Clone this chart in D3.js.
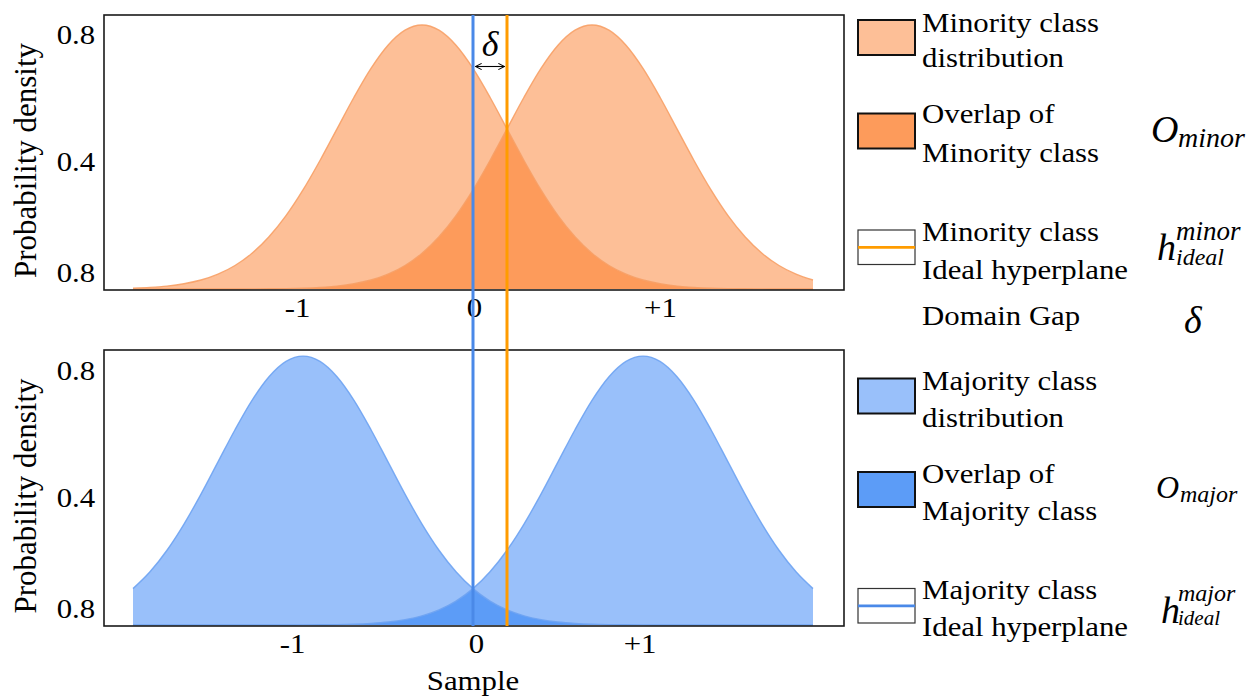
<!DOCTYPE html>
<html><head><meta charset="utf-8">
<script src="https://cdn.jsdelivr.net/npm/d3@7"></script>
<style>
body{margin:0;background:#fff}
svg{display:block}
</style>
</head><body>
<svg id="c" width="1247" height="696"></svg>
<script>
// ---------------- data ----------------
const sampleX = d3.range(41).map(i => +(-2 + i * 0.1).toFixed(1));   // sample positions on the x axis
const minorityLeft  = [0.0026,0.0050,0.0092,0.0165,0.0282,0.0466,0.0738,0.1123,0.1643,0.2307,0.3115,0.4040,0.5034,0.6027,0.6933,0.7662,0.8136,0.8300,0.8136,0.7662,0.6933,0.6027,0.5034,0.4040,0.3115,0.2307,0.1643,0.1123,0.0738,0.0466,0.0282,0.0165,0.0092,0.0050,0.0026,0.0013,0.0006,0.0003,0.0001,0,0];
const minorityRight = [0,0,0,0,0,0.0001,0.0001,0.0003,0.0006,0.0013,0.0026,0.0050,0.0092,0.0165,0.0282,0.0466,0.0738,0.1123,0.1643,0.2307,0.3115,0.4040,0.5034,0.6027,0.6933,0.7662,0.8136,0.8300,0.8136,0.7662,0.6933,0.6027,0.5034,0.4040,0.3115,0.2307,0.1643,0.1123,0.0738,0.0466,0.0282];
const majorityLeft  = [0.1146,0.1676,0.2355,0.3179,0.4123,0.5137,0.6150,0.7075,0.7819,0.8302,0.8470,0.8302,0.7819,0.7075,0.6150,0.5137,0.4123,0.3179,0.2355,0.1676,0.1146,0.0753,0.0475,0.0288,0.0168,0.0094,0.0051,0.0026,0.0013,0.0006,0.0003,0.0001,0,0,0,0,0,0,0,0,0];
const majorityRight = [0,0,0,0,0,0,0,0,0,0.0001,0.0003,0.0006,0.0013,0.0026,0.0051,0.0094,0.0168,0.0288,0.0475,0.0753,0.1146,0.1676,0.2355,0.3179,0.4123,0.5137,0.6150,0.7075,0.7819,0.8302,0.8470,0.8302,0.7819,0.7075,0.6150,0.5137,0.4123,0.3179,0.2355,0.1676,0.1146];
const majorityHyperplane = 0.0;
const minorityHyperplane = 0.2;
const topXTicks = [-1.035, 0.006, 1.10];
const bottomXTicks = [-1.065, 0.018, 0.98];
const xTickLabels = ["-1", "0", "+1"];
const yTicks = [0.052, 0.4, 0.8];
const yTickLabels = ["0.8", "0.4", "0.8"];
const legendTop = [
  {lines:["Minority class","distribution"], kind:"fill", color:"#fdbf97"},
  {lines:["Overlap of","Minority class"], kind:"fill", color:"#fd9b5b"},
  {lines:["Minority class","Ideal hyperplane"], kind:"line", color:"#ff9c00"}
];
const legendBottom = [
  {lines:["Majority class","distribution"], kind:"fill", color:"#99c0fa"},
  {lines:["Overlap of","Majority class"], kind:"fill", color:"#5c9cf7"},
  {lines:["Majority class","Ideal hyperplane"], kind:"line", color:"#4a89e8"}
];

// ---------------- drawing ----------------
const FONT = "'Liberation Serif'";
const svg = d3.select("#c");
const SX = 1.1; // horizontal stretch of the reference lettering
const x = d3.scaleLinear().domain([-2, 2]).range([133, 813]);

function serif(sel, size, italic) {
  return sel.style("font-family", FONT).style("font-size", size + "px")
    .style("font-style", italic ? "italic" : "normal").style("fill", "#000");
}

const panels = [
  {top:15, bottom:290, y:d3.scaleLinear().domain([0,0.8]).range([289,34.5]),
   a:minorityLeft, b:minorityRight, light:"#fdbf97", dark:"#fd9b5b", edge:"#f7a066",
   ticks:topXTicks, id:"minor"},
  {top:350, bottom:626, y:d3.scaleLinear().domain([0,0.8]).range([625,371]),
   a:majorityLeft, b:majorityRight, light:"#99c0fa", dark:"#5c9cf7", edge:"#6ea3f2",
   ticks:bottomXTicks, id:"major"}
];

const defs = svg.append("defs");

panels.forEach(p => {
  const g = svg.append("g");
  const area = d3.area().x((d,i)=>x(sampleX[i])).y0(p.y(0)).y1(d=>p.y(d)).curve(d3.curveMonotoneX);
  const line = d3.line().x((d,i)=>x(sampleX[i])).y(d=>p.y(d)).curve(d3.curveMonotoneX);
  defs.append("clipPath").attr("id","clip-"+p.id).append("path").attr("d", area(p.b));
  g.append("path").attr("d", area(p.a)).attr("fill", p.light);
  g.append("path").attr("d", area(p.b)).attr("fill", p.light);
  g.append("path").attr("d", area(p.a)).attr("fill", p.dark).attr("clip-path","url(#clip-"+p.id+")");
  [p.a, p.b].forEach(s => g.append("path").attr("d", line(s)).attr("fill","none")
      .attr("stroke", p.edge).attr("stroke-width",1.4).attr("stroke-opacity",0.9));
  g.append("rect").attr("x",104).attr("y",p.top).attr("width",740).attr("height",p.bottom-p.top)
    .attr("fill","none").attr("stroke","#1a1a1a").attr("stroke-width",1.6);

  // x axis labels
  const xa = svg.append("g").attr("transform",`translate(0,${p.y(0)})`)
    .call(d3.axisBottom(x).tickValues(p.ticks).tickSize(0).tickPadding(8)
      .tickFormat((d,i)=>xTickLabels[i]));
  xa.select(".domain").remove();
  serif(xa.selectAll("text"), 28).attr("transform",`scale(${SX},1)`);
  // y axis labels
  const ya = svg.append("g").attr("transform","translate(104,0)")
    .call(d3.axisLeft(p.y).tickValues(yTicks).tickSize(0).tickPadding(8)
      .tickFormat((d,i)=>yTickLabels[i]));
  ya.select(".domain").remove();
  serif(ya.selectAll("text"), 28).attr("transform",`scale(${SX},1)`);
  // y title
  serif(svg.append("text"), 31).attr("transform",`translate(36,${(p.top+p.bottom)/2+8}) rotate(-90)`)
    .attr("text-anchor","middle").text("Probability density");
});

// x title
serif(svg.append("text"), 28).attr("transform",`translate(${x(0)},690) scale(${SX},1)`)
  .attr("text-anchor","middle").text("Sample");

// hyperplanes
[[majorityHyperplane,"#4a89e8"],[minorityHyperplane,"#ff9c00"]].forEach(([v,c]) => {
  svg.append("line").attr("x1",x(v)).attr("x2",x(v)).attr("y1",15).attr("y2",626)
    .attr("stroke",c).attr("stroke-width",3);
});

// delta annotation
defs.append("marker").attr("id","arr").attr("viewBox","0 0 10 10").attr("refX",9).attr("refY",5)
  .attr("markerWidth",7).attr("markerHeight",7).attr("orient","auto-start-reverse")
  .append("path").attr("d","M1,1 L9,5 L1,9").attr("fill","none").attr("stroke","#000").attr("stroke-width",1.3);
svg.append("line").attr("x1",x(majorityHyperplane)+2.5).attr("x2",x(minorityHyperplane)-2.5)
  .attr("y1",66.5).attr("y2",66.5).attr("stroke","#000").attr("stroke-width",1.1)
  .attr("marker-start","url(#arr)").attr("marker-end","url(#arr)");
serif(svg.append("text"), 36, true).attr("x",(x(majorityHyperplane)+x(minorityHyperplane))/2).attr("y",56)
  .attr("text-anchor","middle").text("δ");

// legend
function legend(items, rows) {
  items.forEach((it, i) => {
    const r = rows[i];
    if (it.kind === "fill") {
      svg.append("rect").attr("x",858).attr("y",r.box).attr("width",57).attr("height",35)
        .attr("fill",it.color).attr("stroke","#111").attr("stroke-width",2);
    } else {
      svg.append("rect").attr("x",858).attr("y",r.box).attr("width",57).attr("height",34.5)
        .attr("fill","#fff").attr("stroke","#333").attr("stroke-width",1.2);
      svg.append("line").attr("x1",858).attr("x2",915).attr("y1",r.box+17.3).attr("y2",r.box+17.3)
        .attr("stroke",it.color).attr("stroke-width",2.7);
    }
    it.lines.forEach((t, k) => {
      serif(svg.append("text"), 28).attr("transform",`translate(922,${r.base[k]}) scale(${SX},1)`).text(t);
    });
  });
}
legend(legendTop, [{box:20,base:[32,67]},{box:113.5,base:[123,161.5]},{box:230,base:[241,279]}]);
legend(legendBottom, [{box:378.5,base:[390,426.5]},{box:472,base:[482.5,520]},{box:588.5,base:[598.5,636]}]);

serif(svg.append("text"), 28).attr("transform",`translate(922,325) scale(${SX},1)`).text("Domain Gap");

// math symbols
function it(xp, yp, size, s) {
  serif(svg.append("text"), size, true).attr("x",xp).attr("y",yp).text(s);
}
it(1151, 141.5, 38, "O"); it(1178, 147, 28, "minor");
it(1156, 498, 32, "O"); it(1180, 502, 24, "major");
it(1157, 260, 38, "h"); it(1176, 240, 27, "minor"); it(1176, 265, 24, "ideal");
it(1161, 623, 38, "h"); it(1178, 601, 24, "major"); it(1178, 625, 21, "ideal");
it(1184, 333, 38, "δ");
</script>
</body></html>
